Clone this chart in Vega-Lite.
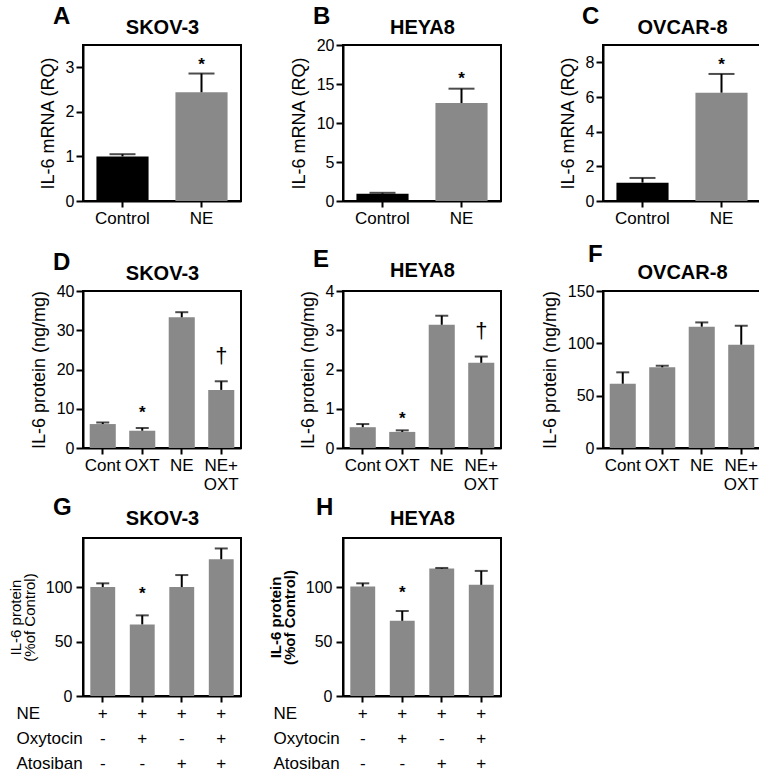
{
"$schema": "https://vega.github.io/schema/vega-lite/v6.json",
"padding": {"left": 7, "top": 4, "right": 0, "bottom": 0},
"background": "white",
"config": {
  "font": "Liberation Sans",
  "view": {"stroke": "black", "strokeWidth": 2},
  "axis": {"domainColor": "black", "domainWidth": 2, "tickColor": "black", "tickWidth": 2, "grid": false, "labelColor": "black", "titleColor": "black", "labelFont": "Liberation Sans", "titleFont": "Liberation Sans", "titleFontWeight": "normal"},
  "axisX": {"labelAngle": 0, "labelFontSize": 17, "tickSize": 6, "labelPadding": 3, "labelOverlap": false, "labelBound": false},
  "axisY": {"labelFontSize": 16, "tickSize": 7, "labelPadding": 2, "titleFontSize": 18, "titlePadding": 8, "labelOverlap": false},
  "title": {"fontSize": 24, "fontWeight": "bold", "anchor": "start", "frame": "group", "color": "black", "offset": 0, "baseline": "alphabetic", "font": "Liberation Sans"},
  "bar": {"color": "#898989"},
  "text": {"font": "Liberation Sans", "color": "black"}
},
"datasets": {
  "A": [{"group": "Control", "value": 1.0, "upper": 1.05, "sig": ""}, {"group": "NE", "value": 2.44, "upper": 2.86, "sig": "*"}],
  "B": [{"group": "Control", "value": 0.94, "upper": 1.05, "sig": ""}, {"group": "NE", "value": 12.56, "upper": 14.4, "sig": "*"}],
  "C": [{"group": "Control", "value": 1.06, "upper": 1.33, "sig": ""}, {"group": "NE", "value": 6.25, "upper": 7.33, "sig": "*"}],
  "D": [{"group": "Cont", "value": 6.1, "upper": 6.5, "sig": ""}, {"group": "OXT", "value": 4.4, "upper": 5.1, "sig": "*"}, {"group": "NE", "value": 33.3, "upper": 34.6, "sig": ""}, {"group": "NE+|OXT", "value": 14.8, "upper": 17.0, "sig": "†"}],
  "E": [{"group": "Cont", "value": 0.53, "upper": 0.61, "sig": ""}, {"group": "OXT", "value": 0.41, "upper": 0.45, "sig": "*"}, {"group": "NE", "value": 3.14, "upper": 3.37, "sig": ""}, {"group": "NE+|OXT", "value": 2.17, "upper": 2.33, "sig": "†"}],
  "F": [{"group": "Cont", "value": 61.4, "upper": 72.3, "sig": ""}, {"group": "OXT", "value": 77.1, "upper": 78.6, "sig": ""}, {"group": "NE", "value": 115.9, "upper": 120.0, "sig": ""}, {"group": "NE+|OXT", "value": 98.7, "upper": 116.8, "sig": ""}],
  "G": [{"group": "+|-|-", "value": 100.0, "upper": 103.4, "sig": ""}, {"group": "+|+|-", "value": 65.7, "upper": 74.0, "sig": "*"}, {"group": "+|-|+", "value": 100.0, "upper": 111.0, "sig": ""}, {"group": "+|+|+", "value": 125.5, "upper": 135.4, "sig": ""}],
  "H": [{"group": "+|-|-", "value": 100.4, "upper": 103.4, "sig": ""}, {"group": "+|+|-", "value": 69.0, "upper": 78.0, "sig": "*"}, {"group": "+|-|+", "value": 116.9, "upper": 117.5, "sig": ""}, {"group": "+|+|+", "value": 102.0, "upper": 114.8, "sig": ""}]
},
"columns": 3,
"bounds": "flush",
"spacing": {"row": 90, "column": 102},
"concat": [
  {"width": 158, "height": 156, "data": {"name": "A"},
   "title": {"text": "A", "dx": -30, "dy": 16},
   "layer": [
    {"mark": "bar", "encoding": {
      "x": {"field": "group", "type": "nominal", "sort": null, "scale": {"paddingInner": 0.34, "paddingOuter": 0.17}, "axis": {"title": null}},
      "y": {"field": "value", "type": "quantitative", "scale": {"domain": [0, 3.5], "nice": false}, "axis": {"values": [0, 1, 2, 3], "title": "IL-6 mRNA (RQ)"}},
      "color": {"field": "group", "type": "nominal", "scale": {"domain": ["Control", "NE"], "range": ["#000000", "#898989"]}, "legend": null}}},
    {"mark": {"type": "rule", "strokeWidth": 2, "color": "black"}, "encoding": {
      "x": {"field": "group", "type": "nominal", "sort": null, "axis": {"orient": "top", "title": "SKOV-3", "labels": false, "ticks": false, "domain": false, "titleFontSize": 20, "titleFontWeight": "bold", "titlePadding": 8}},
      "y": {"field": "value", "type": "quantitative", "axis": {"values": [0, 1, 2, 3], "title": "IL-6 mRNA (RQ)"}}, "y2": {"field": "upper"}}},
    {"mark": {"type": "tick", "size": 26, "thickness": 2, "color": "black"}, "encoding": {
      "x": {"field": "group", "type": "nominal", "sort": null, "axis": null},
      "y": {"field": "upper", "type": "quantitative", "axis": {"values": [0, 1, 2, 3], "title": "IL-6 mRNA (RQ)"}}}},
    {"transform": [{"filter": "datum.sig === '*'"}], "mark": {"type": "text", "fontSize": 17, "fontWeight": "bold", "baseline": "alphabetic", "dy": -4}, "encoding": {
      "x": {"field": "group", "type": "nominal", "sort": null, "axis": null},
      "y": {"field": "upper", "type": "quantitative", "axis": {"values": [0, 1, 2, 3], "title": "IL-6 mRNA (RQ)"}}, "text": {"field": "sig"}}}
   ],
   "resolve": {"axis": {"x": "independent"}}},

  {"width": 158, "height": 156, "data": {"name": "B"},
   "title": {"text": "B", "dx": -30, "dy": 16},
   "layer": [
    {"mark": "bar", "encoding": {
      "x": {"field": "group", "type": "nominal", "sort": null, "scale": {"paddingInner": 0.34, "paddingOuter": 0.17}, "axis": {"title": null}},
      "y": {"field": "value", "type": "quantitative", "scale": {"domain": [0, 20], "nice": false}, "axis": {"values": [0, 5, 10, 15, 20], "title": "IL-6 mRNA (RQ)"}},
      "color": {"field": "group", "type": "nominal", "scale": {"domain": ["Control", "NE"], "range": ["#000000", "#898989"]}, "legend": null}}},
    {"mark": {"type": "rule", "strokeWidth": 2, "color": "black"}, "encoding": {
      "x": {"field": "group", "type": "nominal", "sort": null, "axis": {"orient": "top", "title": "HEYA8", "labels": false, "ticks": false, "domain": false, "titleFontSize": 20, "titleFontWeight": "bold", "titlePadding": 8}},
      "y": {"field": "value", "type": "quantitative", "axis": {"values": [0, 5, 10, 15, 20], "title": "IL-6 mRNA (RQ)"}}, "y2": {"field": "upper"}}},
    {"mark": {"type": "tick", "size": 26, "thickness": 2, "color": "black"}, "encoding": {
      "x": {"field": "group", "type": "nominal", "sort": null, "axis": null},
      "y": {"field": "upper", "type": "quantitative", "axis": {"values": [0, 5, 10, 15, 20], "title": "IL-6 mRNA (RQ)"}}}},
    {"transform": [{"filter": "datum.sig === '*'"}], "mark": {"type": "text", "fontSize": 17, "fontWeight": "bold", "baseline": "alphabetic", "dy": -5}, "encoding": {
      "x": {"field": "group", "type": "nominal", "sort": null, "axis": null},
      "y": {"field": "upper", "type": "quantitative", "axis": {"values": [0, 5, 10, 15, 20], "title": "IL-6 mRNA (RQ)"}}, "text": {"field": "sig"}}}
   ],
   "resolve": {"axis": {"x": "independent"}}},

  {"width": 158, "height": 156, "data": {"name": "C"},
   "title": {"text": "C", "dx": -21, "dy": 16},
   "layer": [
    {"mark": "bar", "encoding": {
      "x": {"field": "group", "type": "nominal", "sort": null, "scale": {"paddingInner": 0.34, "paddingOuter": 0.17}, "axis": {"title": null}},
      "y": {"field": "value", "type": "quantitative", "scale": {"domain": [0, 9], "nice": false}, "axis": {"values": [0, 2, 4, 6, 8], "title": "IL-6 mRNA (RQ)"}},
      "color": {"field": "group", "type": "nominal", "scale": {"domain": ["Control", "NE"], "range": ["#000000", "#898989"]}, "legend": null}}},
    {"mark": {"type": "rule", "strokeWidth": 2, "color": "black"}, "encoding": {
      "x": {"field": "group", "type": "nominal", "sort": null, "axis": {"orient": "top", "title": "OVCAR-8", "labels": false, "ticks": false, "domain": false, "titleFontSize": 20, "titleFontWeight": "bold", "titlePadding": 8}},
      "y": {"field": "value", "type": "quantitative", "axis": {"values": [0, 2, 4, 6, 8], "title": "IL-6 mRNA (RQ)"}}, "y2": {"field": "upper"}}},
    {"mark": {"type": "tick", "size": 26, "thickness": 2, "color": "black"}, "encoding": {
      "x": {"field": "group", "type": "nominal", "sort": null, "axis": null},
      "y": {"field": "upper", "type": "quantitative", "axis": {"values": [0, 2, 4, 6, 8], "title": "IL-6 mRNA (RQ)"}}}},
    {"transform": [{"filter": "datum.sig === '*'"}], "mark": {"type": "text", "fontSize": 17, "fontWeight": "bold", "baseline": "alphabetic", "dy": -4}, "encoding": {
      "x": {"field": "group", "type": "nominal", "sort": null, "axis": null},
      "y": {"field": "upper", "type": "quantitative", "axis": {"values": [0, 2, 4, 6, 8], "title": "IL-6 mRNA (RQ)"}}, "text": {"field": "sig"}}}
   ],
   "resolve": {"axis": {"x": "independent"}}},

  {"width": 158, "height": 157, "data": {"name": "D"},
   "title": {"text": "D", "dx": -30, "dy": 16},
   "layer": [
    {"mark": "bar", "encoding": {
      "x": {"field": "group", "type": "nominal", "sort": null, "scale": {"paddingInner": 0.34, "paddingOuter": 0.17}, "axis": {"title": null, "labelExpr": "split(datum.label, '|')", "labelLineHeight": 19}},
      "y": {"field": "value", "type": "quantitative", "scale": {"domain": [0, 40], "nice": false}, "axis": {"values": [0, 10, 20, 30, 40], "title": "IL-6 protein (ng/mg)"}}}},
    {"mark": {"type": "rule", "strokeWidth": 2, "color": "black"}, "encoding": {
      "x": {"field": "group", "type": "nominal", "sort": null, "axis": {"orient": "top", "title": "SKOV-3", "labels": false, "ticks": false, "domain": false, "titleFontSize": 20, "titleFontWeight": "bold", "titlePadding": 8}},
      "y": {"field": "value", "type": "quantitative", "axis": {"values": [0, 10, 20, 30, 40], "title": "IL-6 protein (ng/mg)"}}, "y2": {"field": "upper"}}},
    {"mark": {"type": "tick", "size": 13, "thickness": 2, "color": "black"}, "encoding": {
      "x": {"field": "group", "type": "nominal", "sort": null, "axis": null},
      "y": {"field": "upper", "type": "quantitative", "axis": {"values": [0, 10, 20, 30, 40], "title": "IL-6 protein (ng/mg)"}}}},
    {"transform": [{"filter": "datum.sig === '*'"}], "mark": {"type": "text", "fontSize": 17, "fontWeight": "bold", "baseline": "alphabetic", "dy": -10}, "encoding": {
      "x": {"field": "group", "type": "nominal", "sort": null, "axis": null},
      "y": {"field": "upper", "type": "quantitative", "axis": {"values": [0, 10, 20, 30, 40], "title": "IL-6 protein (ng/mg)"}}, "text": {"field": "sig"}}},
    {"transform": [{"filter": "datum.sig === '†'"}], "mark": {"type": "text", "fontSize": 22, "baseline": "alphabetic", "dy": -18}, "encoding": {
      "x": {"field": "group", "type": "nominal", "sort": null, "axis": null},
      "y": {"field": "upper", "type": "quantitative", "axis": {"values": [0, 10, 20, 30, 40], "title": "IL-6 protein (ng/mg)"}}, "text": {"field": "sig"}}}
   ],
   "resolve": {"axis": {"x": "independent"}}},

  {"width": 158, "height": 157, "data": {"name": "E"},
   "title": {"text": "E", "dx": -30, "dy": 16},
   "layer": [
    {"mark": "bar", "encoding": {
      "x": {"field": "group", "type": "nominal", "sort": null, "scale": {"paddingInner": 0.34, "paddingOuter": 0.17}, "axis": {"title": null, "labelExpr": "split(datum.label, '|')", "labelLineHeight": 19}},
      "y": {"field": "value", "type": "quantitative", "scale": {"domain": [0, 4], "nice": false}, "axis": {"values": [0, 1, 2, 3, 4], "title": "IL-6 protein (ng/mg)"}}}},
    {"mark": {"type": "rule", "strokeWidth": 2, "color": "black"}, "encoding": {
      "x": {"field": "group", "type": "nominal", "sort": null, "axis": {"orient": "top", "title": "HEYA8", "labels": false, "ticks": false, "domain": false, "titleFontSize": 20, "titleFontWeight": "bold", "titlePadding": 11}},
      "y": {"field": "value", "type": "quantitative", "axis": {"values": [0, 1, 2, 3, 4], "title": "IL-6 protein (ng/mg)"}}, "y2": {"field": "upper"}}},
    {"mark": {"type": "tick", "size": 13, "thickness": 2, "color": "black"}, "encoding": {
      "x": {"field": "group", "type": "nominal", "sort": null, "axis": null},
      "y": {"field": "upper", "type": "quantitative", "axis": {"values": [0, 1, 2, 3, 4], "title": "IL-6 protein (ng/mg)"}}}},
    {"transform": [{"filter": "datum.sig === '*'"}], "mark": {"type": "text", "fontSize": 17, "fontWeight": "bold", "baseline": "alphabetic", "dy": -6}, "encoding": {
      "x": {"field": "group", "type": "nominal", "sort": null, "axis": null},
      "y": {"field": "upper", "type": "quantitative", "axis": {"values": [0, 1, 2, 3, 4], "title": "IL-6 protein (ng/mg)"}}, "text": {"field": "sig"}}},
    {"transform": [{"filter": "datum.sig === '†'"}], "mark": {"type": "text", "fontSize": 22, "baseline": "alphabetic", "dy": -19}, "encoding": {
      "x": {"field": "group", "type": "nominal", "sort": null, "axis": null},
      "y": {"field": "upper", "type": "quantitative", "axis": {"values": [0, 1, 2, 3, 4], "title": "IL-6 protein (ng/mg)"}}, "text": {"field": "sig"}}}
   ],
   "resolve": {"axis": {"x": "independent"}}},

  {"width": 158, "height": 157, "data": {"name": "F"},
   "title": {"text": "F", "dx": -15, "dy": 9},
   "layer": [
    {"mark": "bar", "encoding": {
      "x": {"field": "group", "type": "nominal", "sort": null, "scale": {"paddingInner": 0.34, "paddingOuter": 0.17}, "axis": {"title": null, "labelExpr": "split(datum.label, '|')", "labelLineHeight": 19}},
      "y": {"field": "value", "type": "quantitative", "scale": {"domain": [0, 150], "nice": false}, "axis": {"values": [0, 50, 100, 150], "title": "IL-6 protein (ng/mg)"}}}},
    {"mark": {"type": "rule", "strokeWidth": 2, "color": "black"}, "encoding": {
      "x": {"field": "group", "type": "nominal", "sort": null, "axis": {"orient": "top", "title": "OVCAR-8", "labels": false, "ticks": false, "domain": false, "titleFontSize": 20, "titleFontWeight": "bold", "titlePadding": 9}},
      "y": {"field": "value", "type": "quantitative", "axis": {"values": [0, 50, 100, 150], "title": "IL-6 protein (ng/mg)"}}, "y2": {"field": "upper"}}},
    {"mark": {"type": "tick", "size": 13, "thickness": 2, "color": "black"}, "encoding": {
      "x": {"field": "group", "type": "nominal", "sort": null, "axis": null},
      "y": {"field": "upper", "type": "quantitative", "axis": {"values": [0, 50, 100, 150], "title": "IL-6 protein (ng/mg)"}}}}
   ],
   "resolve": {"axis": {"x": "independent"}}},

  {"width": 158, "height": 158, "data": {"name": "G"},
   "title": {"text": "G", "dx": -30, "dy": 16},
   "layer": [
    {"mark": "bar", "encoding": {
      "x": {"field": "group", "type": "nominal", "sort": null, "scale": {"paddingInner": 0.37, "paddingOuter": 0.185},
            "axis": {"labelExpr": "split(datum.label, '|')", "labelLineHeight": 25, "labelPadding": 3,
                     "title": ["NE", "Oxytocin", "Atosiban"], "titleAngle": 0, "titleAlign": "left", "titleBaseline": "top", "titleX": -67, "titleY": 9, "titleFontSize": 17, "titleLineHeight": 25}},
      "y": {"field": "value", "type": "quantitative", "scale": {"domain": [0, 145], "nice": false}, "axis": {"values": [0, 50, 100], "labelPadding": 4, "title": ["IL-6 protein", "(%of Control)"], "titleFontSize": 15, "titleLineHeight": 14}}}},
    {"mark": {"type": "rule", "strokeWidth": 2, "color": "black"}, "encoding": {
      "x": {"field": "group", "type": "nominal", "sort": null, "axis": {"orient": "top", "title": "SKOV-3", "labels": false, "ticks": false, "domain": false, "titleFontSize": 20, "titleFontWeight": "bold", "titlePadding": 10}},
      "y": {"field": "value", "type": "quantitative", "axis": {"values": [0, 50, 100], "labelPadding": 4, "title": ["IL-6 protein", "(%of Control)"], "titleFontSize": 15, "titleLineHeight": 14}}, "y2": {"field": "upper"}}},
    {"mark": {"type": "tick", "size": 13, "thickness": 2, "color": "black"}, "encoding": {
      "x": {"field": "group", "type": "nominal", "sort": null, "axis": null},
      "y": {"field": "upper", "type": "quantitative", "axis": {"values": [0, 50, 100], "labelPadding": 4, "title": ["IL-6 protein", "(%of Control)"], "titleFontSize": 15, "titleLineHeight": 14}}}},
    {"transform": [{"filter": "datum.sig === '*'"}], "mark": {"type": "text", "fontSize": 17, "fontWeight": "bold", "baseline": "alphabetic", "dy": -16}, "encoding": {
      "x": {"field": "group", "type": "nominal", "sort": null, "axis": null},
      "y": {"field": "upper", "type": "quantitative", "axis": {"values": [0, 50, 100], "labelPadding": 4, "title": ["IL-6 protein", "(%of Control)"], "titleFontSize": 15, "titleLineHeight": 14}}, "text": {"field": "sig"}}}
   ],
   "resolve": {"axis": {"x": "independent"}}},

  {"width": 158, "height": 158, "data": {"name": "H"},
   "title": {"text": "H", "dx": -27, "dy": 16},
   "layer": [
    {"mark": "bar", "encoding": {
      "x": {"field": "group", "type": "nominal", "sort": null, "scale": {"paddingInner": 0.37, "paddingOuter": 0.185},
            "axis": {"labelExpr": "split(datum.label, '|')", "labelLineHeight": 25, "labelPadding": 3,
                     "title": ["NE", "Oxytocin", "Atosiban"], "titleAngle": 0, "titleAlign": "left", "titleBaseline": "top", "titleX": -70, "titleY": 9, "titleFontSize": 17, "titleLineHeight": 25}},
      "y": {"field": "value", "type": "quantitative", "scale": {"domain": [0, 145], "nice": false}, "axis": {"values": [0, 50, 100], "labelPadding": 4, "title": ["IL-6 protein", "(%of Control)"], "titleFontSize": 15, "titleLineHeight": 14, "titleFontWeight": "bold"}}}},
    {"mark": {"type": "rule", "strokeWidth": 2, "color": "black"}, "encoding": {
      "x": {"field": "group", "type": "nominal", "sort": null, "axis": {"orient": "top", "title": "HEYA8", "labels": false, "ticks": false, "domain": false, "titleFontSize": 20, "titleFontWeight": "bold", "titlePadding": 10}},
      "y": {"field": "value", "type": "quantitative", "axis": {"values": [0, 50, 100], "labelPadding": 4, "title": ["IL-6 protein", "(%of Control)"], "titleFontSize": 15, "titleLineHeight": 14, "titleFontWeight": "bold"}}, "y2": {"field": "upper"}}},
    {"mark": {"type": "tick", "size": 13, "thickness": 2, "color": "black"}, "encoding": {
      "x": {"field": "group", "type": "nominal", "sort": null, "axis": null},
      "y": {"field": "upper", "type": "quantitative", "axis": {"values": [0, 50, 100], "labelPadding": 4, "title": ["IL-6 protein", "(%of Control)"], "titleFontSize": 15, "titleLineHeight": 14, "titleFontWeight": "bold"}}}},
    {"transform": [{"filter": "datum.sig === '*'"}], "mark": {"type": "text", "fontSize": 17, "fontWeight": "bold", "baseline": "alphabetic", "dy": -13}, "encoding": {
      "x": {"field": "group", "type": "nominal", "sort": null, "axis": null},
      "y": {"field": "upper", "type": "quantitative", "axis": {"values": [0, 50, 100], "labelPadding": 4, "title": ["IL-6 protein", "(%of Control)"], "titleFontSize": 15, "titleLineHeight": 14, "titleFontWeight": "bold"}}, "text": {"field": "sig"}}}
   ],
   "resolve": {"axis": {"x": "independent"}}}
]
}
